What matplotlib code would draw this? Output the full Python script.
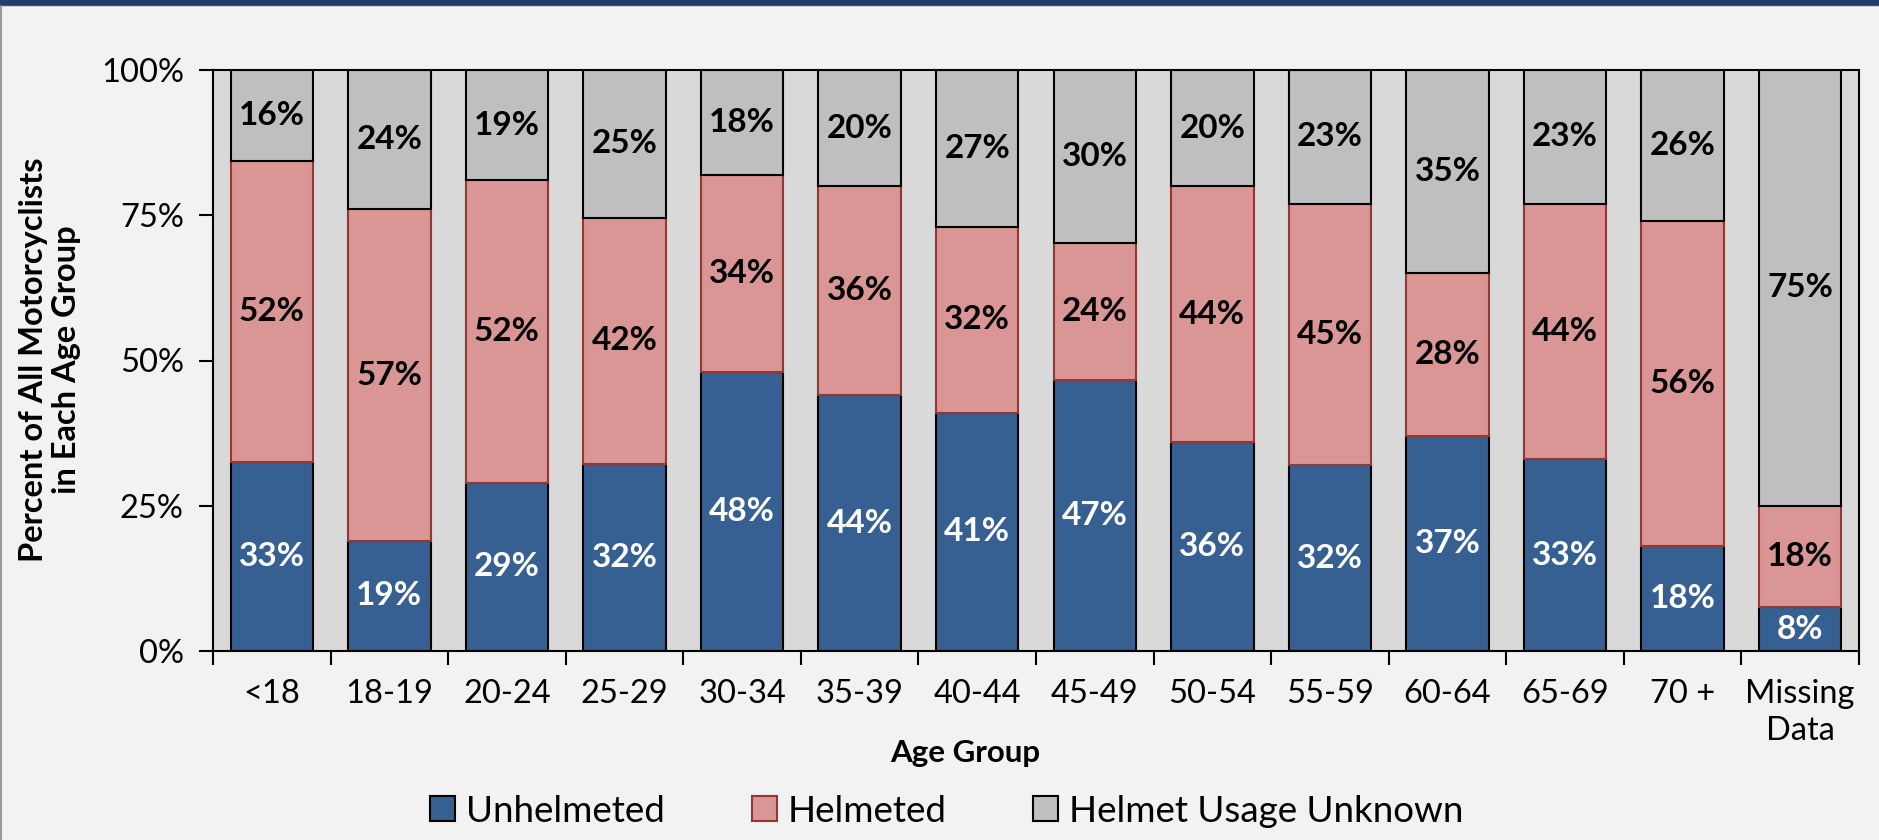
import matplotlib
matplotlib.use('Agg')
import matplotlib.pyplot as plt
from matplotlib.patches import Rectangle
from matplotlib.lines import Line2D
import numpy as np

age_groups = ['<18', '18-19', '20-24', '25-29', '30-34', '35-39', '40-44',
              '45-49', '50-54', '55-59', '60-64', '65-69', '70 +', 'Missing\nData']
unhelmeted = [32.6, 19, 29, 32.2, 48, 44, 41, 46.6, 36, 32, 37, 33, 18, 7.5]
helmeted = [51.8, 57, 52, 42.4, 34, 36, 32, 23.7, 44, 45, 28, 44, 56, 17.5]
unknown = [15.6, 24, 19, 25.4, 18, 20, 27, 29.7, 20, 23, 35, 23, 26, 75.0]
y_ticks = [0, 25, 50, 75, 100]
series_names = ['Unhelmeted', 'Helmeted', 'Helmet Usage Unknown']

plt.rcParams['font.family'] = ['Lato', 'DejaVu Sans']

W, H = 1879, 840
fig = plt.figure(figsize=(W / 100, H / 100), dpi=100, facecolor='#F2F2F2')
ax = fig.add_axes([213 / W, 1 - 651 / H, (1859 - 213) / W, (651 - 70) / H])
ax.set_facecolor('#D9D9D9')

x = np.arange(len(age_groups))
bw = 0.70
b1 = ax.bar(x, unhelmeted, bw, color='#376092', edgecolor='black', linewidth=1.5,
            label=series_names[0])
b2 = ax.bar(x, helmeted, bw, bottom=unhelmeted, color='#D99694', edgecolor='#953735',
            linewidth=1.5, label=series_names[1])
bottom3 = np.array(unhelmeted) + np.array(helmeted)
b3 = ax.bar(x, unknown, bw, bottom=bottom3, color='#BFBFBF', edgecolor='black',
            linewidth=1.5, label=series_names[2])

# segment labels
for i in range(len(x)):
    ax.text(x[i], unhelmeted[i] / 2, f'{round(unhelmeted[i])}%', ha='center', va='center',
            color='white', fontsize=24, fontweight='bold')
    ax.text(x[i], unhelmeted[i] + helmeted[i] / 2, f'{round(helmeted[i])}%', ha='center',
            va='center', color='black', fontsize=24, fontweight='bold')
    ax.text(x[i], bottom3[i] + unknown[i] / 2, f'{round(unknown[i])}%', ha='center',
            va='center', color='black', fontsize=24, fontweight='bold')

ax.set_xlim(-0.5, len(x) - 0.5)
ax.set_ylim(0, 100)
ax.set_yticks(y_ticks)
ax.set_yticklabels([f'{t}%' for t in y_ticks], fontsize=23.5)
ax.set_xticks(x)
ax.set_xticklabels(age_groups, fontsize=23.5, linespacing=1.3)
ax.set_xticks(np.arange(-0.5, len(x), 1), minor=True)
ax.tick_params(axis='x', which='major', length=0, pad=20)
ax.tick_params(axis='x', which='minor', length=10, width=1.5, direction='out')
ax.tick_params(axis='y', length=10, width=1.5, direction='out', pad=11)
for s in ax.spines.values():
    s.set_linewidth(1.5)
    s.set_color('black')

fig.text(50 / W, 1 - 360 / H, 'Percent of All Motorcyclists\nin Each Age Group',
         rotation=90, ha='center', va='center', fontsize=23.5, fontweight='bold',
         linespacing=1.15)
fig.text(965 / W, 1 - 753 / H, 'Age Group', ha='center', va='center',
         fontsize=22.5, fontweight='bold')

fig.legend(handles=[b1, b2, b3], labels=series_names, loc='center',
           bbox_to_anchor=(947 / W, 1 - 811 / H), ncol=3, frameon=False,
           fontsize=26.5, handlelength=0.68, handleheight=0.68, handletextpad=0.3,
           columnspacing=2.35)

# frame decorations
fig.patches.append(Rectangle((0, 1 - 4 / H), 1, 4 / H, transform=fig.transFigure,
                             color='#1F3F6E', zorder=10))
fig.lines.append(Line2D([0, 1], [1 - 5 / H, 1 - 5 / H], transform=fig.transFigure,
                        color='#555555', linewidth=1))
fig.lines.append(Line2D([0.5 / W, 0.5 / W], [0, 1 - 5 / H], transform=fig.transFigure,
                        color='#888888', linewidth=1.2))

fig.savefig('out.png', dpi=100, facecolor=fig.get_facecolor())
